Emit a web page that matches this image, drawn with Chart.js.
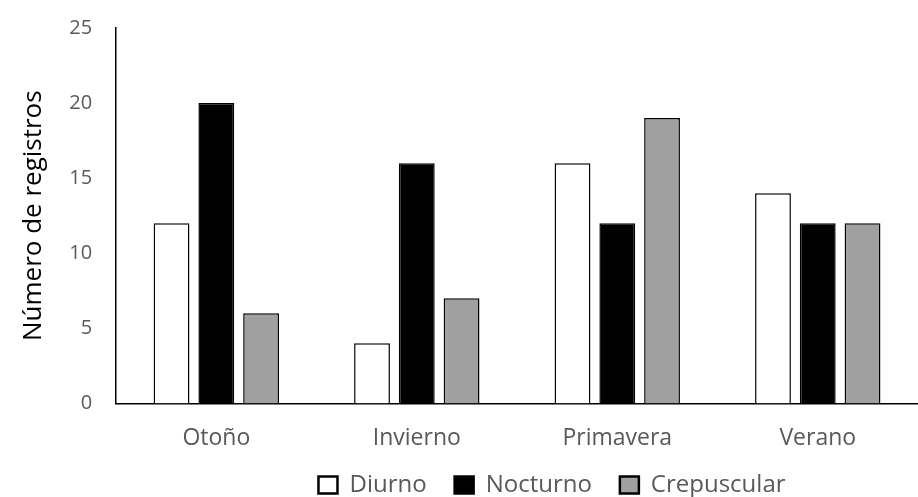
<!DOCTYPE html>
<html>
<head>
<meta charset="utf-8">
<script src="https://cdn.jsdelivr.net/npm/chart.js@4"></script>
<style>
  html, body { margin: 0; padding: 0; background: #fff; }
  #wrap { width: 918px; height: 497px; }
</style>
</head>
<body>
<div id="wrap"><canvas id="chart" width="918" height="497"></canvas></div>
<script>
// --- Registros por estación ---
const seasons = ['Otoño', 'Invierno', 'Primavera', 'Verano'];
const diurno = [12, 4, 16, 14];
const nocturno = [20, 16, 12, 12];
const crepuscular = [6, 7, 19, 12];
const yTicks = [0, 5, 10, 15, 20, 25];

const fontFamily = "'Open Sans', 'Liberation Sans', sans-serif";

function barSet(label, values, fill) {
    return {
        label: label,
        data: values,
        backgroundColor: fill,
        borderColor: '#000000',
        borderWidth: 1.5,
        categoryPercentage: 0.67,
        barPercentage: 0.8
    };
}

// legend sits a bit right of centre in the original
const shiftLegend = {
    id: 'shiftLegend',
    afterLayout(chart) {
        chart.legend.left += 84;
        chart.legend.right += 84;
    }
};

const ctx = document.getElementById('chart').getContext('2d');
new Chart(ctx, {
    type: 'bar',
    data: {
        labels: seasons,
        datasets: [
            barSet('Diurno', diurno, '#ffffff'),
            barSet('Nocturno', nocturno, '#000000'),
            barSet('Crepuscular', crepuscular, '#a0a0a0')
        ]
    },
    plugins: [shiftLegend],
    options: {
        responsive: false,
        animation: false,
        layout: { padding: { top: 8, right: 0, left: 18, bottom: -10 } },
        plugins: {
            tooltip: { enabled: false },
            legend: {
                position: 'bottom',
                labels: {
                    color: '#595959',
                    font: { family: fontFamily, size: 24 },
                    boxWidth: 19,
                    boxHeight: 17,
                    padding: 28,
                    generateLabels: chart => Chart.defaults.plugins.legend.labels.generateLabels(chart)
                        .map(item => Object.assign(item, { lineWidth: 2.5 }))
                }
            }
        },
        scales: {
            x: {
                grid: { display: false },
                border: { color: '#000000', width: 1.5 },
                ticks: { color: '#595959', font: { family: fontFamily, size: 23 }, padding: 13 },
                afterFit: scale => { scale.height -= 20; }
            },
            y: {
                min: 0,
                max: 25,
                afterBuildTicks: axis => { axis.ticks = yTicks.map(v => ({ value: v })); },
                grid: { display: false },
                border: { color: '#000000', width: 1.5 },
                ticks: { color: '#595959', font: { family: fontFamily, size: 20 }, padding: 16 },
                title: {
                    display: true,
                    text: 'Número de registros',
                    color: '#000000',
                    font: { family: fontFamily, size: 26 },
                    padding: { top: 0, bottom: 4 }
                }
            }
        }
    }
});
</script>
</body>
</html>
